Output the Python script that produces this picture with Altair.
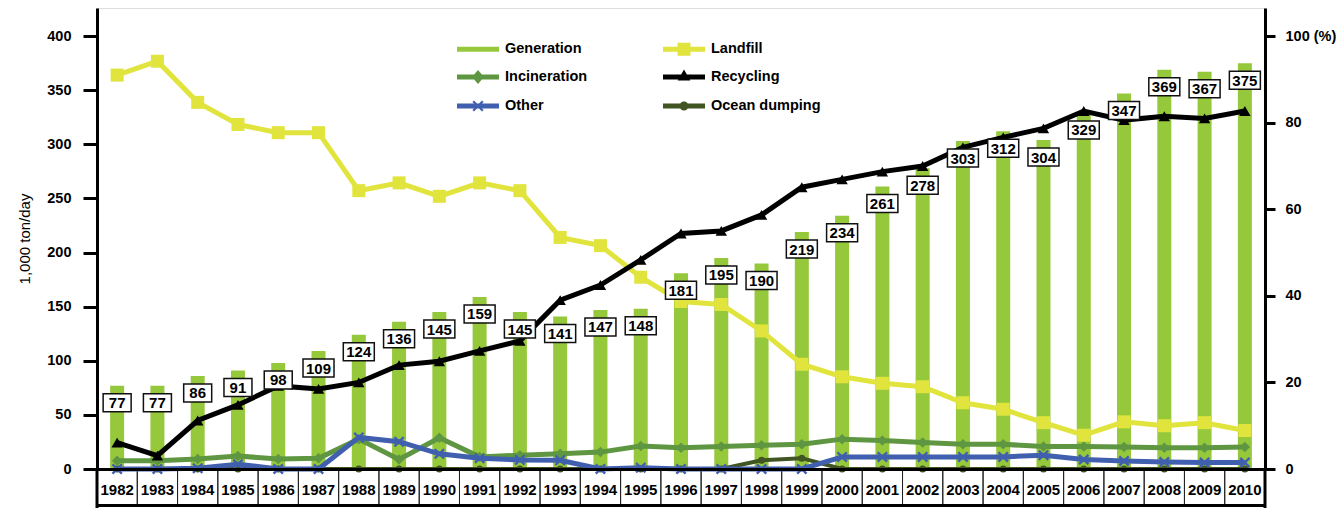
import altair as alt
import pandas as pd

# ---------------- data ----------------
years = list(range(1982, 2011))
generation = [77, 77, 86, 91, 98, 109, 124, 136, 145, 159, 145, 141, 147, 148, 181,
              195, 190, 219, 234, 261, 278, 303, 312, 304, 329, 347, 369, 367, 375]
landfill = [91.0, 94.2, 84.7, 79.6, 77.7, 77.7, 64.3, 66.1, 63.0, 66.1, 64.3, 53.5, 51.6, 44.3,
            38.7, 38.0, 31.9, 24.2, 21.3, 19.8, 19.0, 15.3, 13.8, 10.7, 7.8, 10.9, 10.0, 10.7, 8.9]
recycling = [6.1, 3.1, 11.2, 14.8, 19.2, 18.5, 20.0, 24.0, 24.9, 27.3, 29.6, 39.0, 42.5, 48.3,
             54.4, 55.0, 58.7, 65.1, 66.9, 68.7, 70.0, 74.3, 76.6, 78.7, 82.7, 80.6, 81.5, 81.0, 82.7]
incineration = [1.9, 1.9, 2.3, 3.0, 2.3, 2.5, 6.9, 2.2, 7.2, 2.8, 3.2, 3.5, 3.9, 5.3, 4.9,
                5.2, 5.5, 5.7, 6.9, 6.6, 6.1, 5.7, 5.7, 5.2, 5.2, 5.1, 4.9, 4.9, 5.1]
other = [0, 0, 0.2, 1.1, 0, 0, 7.3, 6.3, 3.5, 2.5, 2.1, 2.0, 0, 0.3, 0, 0, 0, 0,
         2.8, 2.8, 2.8, 2.8, 2.8, 3.2, 2.2, 1.85, 1.6, 1.5, 1.5]
ocean_dumping = [0] * 16 + [2.0, 2.5] + [0] * 11

# legend fills column by column
legend_order = ["Generation", "Incineration", "Other", "Landfill", "Recycling", "Ocean dumping"]
legend_colors = ["#96C83C", "#5F9641", "#415FAF", "#E1E43C", "#000000", "#415523"]

# ---------------- styling ----------------
W, H = 1168, 461
FONT = "Liberation Sans"
GEN_COLOR = "#96C83C"

LINE = "M-1.4,-0.167H1.4V0.167H-1.4Z"
legend_paths = [
    LINE,
    LINE + " M-0.4,0L0,-0.47L0.4,0L0,0.47Z",
    LINE + " M-0.37,-0.27L-0.27,-0.37L0,-0.1L0.27,-0.37L0.37,-0.27L0.1,0L0.37,0.27L0.27,0.37L0,0.1L-0.27,0.37L-0.37,0.27L-0.1,0Z",
    LINE + " M-0.43,-0.43H0.43V0.43H-0.43Z",
    LINE + " M-0.42,0.24L0,-0.5L0.42,0.24Z",
    LINE + " M-0.3,0A0.3,0.3 0 1,1 0.3,0A0.3,0.3 0 1,1 -0.3,0Z",
]
X_SHAPE = "M-1,-0.7L-0.7,-1L0,-0.3L0.7,-1L1,-0.7L0.3,0L1,0.7L0.7,1L0,0.3L-0.7,1L-1,0.7L-0.3,0Z"

x_axis = alt.Axis(title=None, labelFont=FONT, labelFontSize=15, labelFontWeight="bold",
                  labelColor="black", labelAngle=0, ticks=False, tickSize=0, labelPadding=20,
                  labelBaseline="middle", domainColor="black", domainWidth=3, zindex=1)
x_scale = alt.Scale(paddingInner=0, paddingOuter=0)

def xb():
    return alt.X("year:O", scale=x_scale, axis=x_axis)

def xc():
    return alt.X("year:O", scale=x_scale, axis=x_axis, bandPosition=0.5)

y_left = alt.Y("generation:Q",
               scale=alt.Scale(domain=[0, 426], nice=False, zero=True),
               axis=alt.Axis(values=list(range(0, 401, 50)), title="1,000 ton/day", orient="left",
                             grid=False, tickSize=14, tickWidth=3, tickColor="black",
                             domainWidth=3, domainColor="black", labelFont=FONT,
                             labelFontSize=14.5, labelFontWeight="bold", labelColor="black",
                             labelPadding=12, titleFont=FONT, titleFontSize=15,
                             titleFontWeight="normal", titleColor="black", titlePadding=14))

y_right = alt.Y("value:Q",
                scale=alt.Scale(domain=[0, 106.5], nice=False, zero=True),
                axis=alt.Axis(values=[0, 20, 40, 60, 80, 100], title=None, orient="right",
                              grid=False, tickSize=10, tickWidth=3, tickColor="black",
                              domainWidth=3, domainColor="black", labelFont=FONT,
                              labelFontSize=14.5, labelFontWeight="bold", labelColor="black",
                              labelPadding=10,
                              labelExpr="datum.value == 100 ? '100 (%)' : datum.label"))

gen_df = pd.DataFrame({"year": years, "generation": generation})
gen_df["label"] = gen_df["generation"].astype(str)
one = pd.DataFrame({"a": [0]})

# ---------------- group 1: bars + year cells ----------------
bars = alt.Chart(gen_df).mark_bar(size=14, color=GEN_COLOR).encode(x=xb(), y=y_left)
cells = alt.Chart(gen_df).mark_rect(fillOpacity=0, stroke="#222222", strokeWidth=1).encode(
    x=xb(), y=alt.value(H), y2=alt.value(H + 36))
rule_left = alt.Chart(one).mark_rule(color="black", strokeWidth=3).encode(
    x=alt.value(0), y=alt.value(H), y2=alt.value(H + 39))
rule_right = alt.Chart(one).mark_rule(color="black", strokeWidth=3).encode(
    x=alt.value(W), y=alt.value(H), y2=alt.value(H + 39))
rule_bottom = alt.Chart(one).mark_rule(color="black", strokeWidth=3).encode(
    x=alt.value(0), x2=alt.value(W), y=alt.value(H + 36.5))
g1 = alt.layer(bars, cells, rule_left, rule_right, rule_bottom)

# ---------------- group 2: percentage lines ----------------
series = [
    ("Ocean dumping", ocean_dumping, "#415523", 4, dict(shape="circle", size=49)),
    ("Incineration", incineration, "#5F9641", 5, dict(shape="diamond", size=110)),
    ("Other", other, "#415FAF", 5, dict(shape=X_SHAPE, size=121)),
    ("Landfill", landfill, "#E1E43C", 5, dict(shape="square", size=169)),
    ("Recycling", recycling, "#000000", 5, dict(shape="triangle-up", size=130)),
]
line_layers = []
for name, vals, color, sw, mk in series:
    df = pd.DataFrame({"year": years, "value": vals})
    base = alt.Chart(df).encode(x=xc(), y=y_right)
    line_layers.append(base.mark_line(color=color, strokeWidth=sw))
    line_layers.append(base.mark_point(color=color, filled=True, opacity=1, **mk))

leg = alt.Legend(title=None, orient="none", legendX=366, legendY=26, columns=2,
                 columnPadding=75, rowPadding=6, labelOffset=12, symbolSize=900,
                 symbolStrokeWidth=0, symbolOpacity=1, labelFont=FONT, labelFontSize=14.5,
                 labelFontWeight="bold", labelColor="black", padding=0)
legend_df = pd.DataFrame({"series": legend_order})
legend_layer = alt.Chart(legend_df).mark_point(filled=True, opacity=0).encode(
    color=alt.Color("series:N", scale=alt.Scale(domain=legend_order, range=legend_colors),
                    legend=leg, sort=legend_order),
    shape=alt.Shape("series:N", scale=alt.Scale(domain=legend_order, range=legend_paths),
                    legend=leg, sort=legend_order),
)
g2 = alt.layer(*line_layers, legend_layer)

# ---------------- group 3: value label boxes ----------------
y_lab = alt.Y("generation:Q", scale=alt.Scale(domain=[0, 426], nice=False, zero=True), axis=None)
box3 = alt.Chart(gen_df).transform_filter("datum.generation >= 100").mark_point(
    shape="M-0.775,-0.45H0.775V0.45H-0.775Z", size=1600, filled=False, fill="white",
    fillOpacity=1, stroke="#111111", strokeWidth=1.5, opacity=1, yOffset=17
).encode(x=xc(), y=y_lab)
box2 = alt.Chart(gen_df).transform_filter("datum.generation < 100").mark_point(
    shape="M-0.7,-0.45H0.7V0.45H-0.7Z", size=1600, filled=False, fill="white",
    fillOpacity=1, stroke="#111111", strokeWidth=1.5, opacity=1, yOffset=17
).encode(x=xc(), y=y_lab)
texts = alt.Chart(gen_df).mark_text(font=FONT, fontSize=15, fontWeight="bold", color="black",
                                    baseline="middle", align="center", dy=17.5).encode(
    x=xc(), y=y_lab, text="label:N")
g3 = alt.layer(box3, box2, texts)

chart = alt.layer(g1, g2, g3).resolve_scale(y="independent").properties(
    width=W, height=H,
    padding={"left": 97, "top": 8, "right": 78, "bottom": 39},
    autosize=alt.AutoSizeParams(type="none"),
).configure_view(stroke=None).configure(background="white")

chart.save("out.html", embed_options={"renderer": "svg", "actions": False})
